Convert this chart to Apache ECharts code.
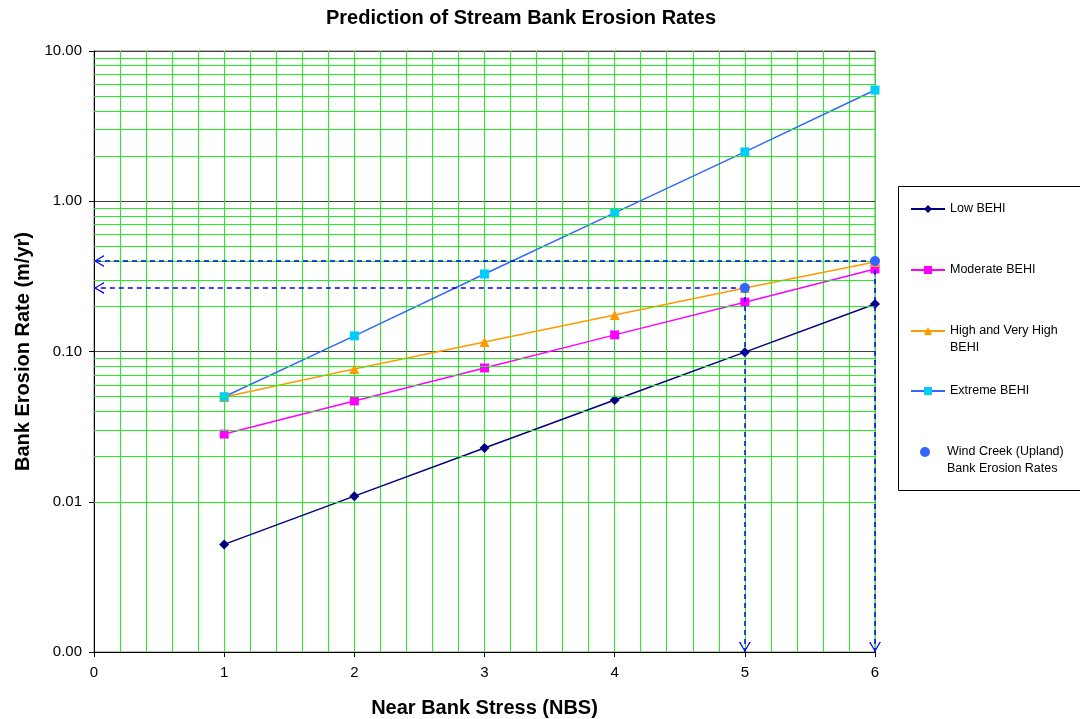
<!DOCTYPE html>
<html>
<head>
<meta charset="utf-8">
<title>Prediction of Stream Bank Erosion Rates</title>
<script src="https://cdn.jsdelivr.net/npm/echarts@6/dist/echarts.min.js"></script>
<style>
  html, body { margin: 0; padding: 0; background: #fff; }
  #chart { width: 1080px; height: 719px; }
</style>
</head>
<body>
<div id="chart"></div>
<script>
// Near Bank Stress ratings (x) shared by all BEHI curves
const nbs = [1, 2, 3, 4, 5, 6];

// Bank erosion rate (m/yr) for each BEHI class
const lowBEHI      = [0.0052, 0.0109, 0.0228, 0.0475, 0.099, 0.207];
const moderateBEHI = [0.0282, 0.0469, 0.0777, 0.129, 0.213, 0.354];
const highBEHI     = [0.0498, 0.0765, 0.1156, 0.175, 0.265, 0.394];
const extremeBEHI  = [0.05, 0.127, 0.328, 0.836, 2.13, 5.50];

// Measured Wind Creek (Upland) points
const windNBS  = [5, 6];
const windRate = [0.265, 0.40];

// Axis extents
const yMin = 0.001, yMax = 10;
const xMin = 0, xMax = 6;

const FONT = 'Arial, "Liberation Sans", sans-serif';

const pairs = (xs, ys) => xs.map((x, i) => [x, ys[i]]);

// Green minor grid lines at 2..9 within each decade of the log axis
const minorLogLines = [];
for (let d = yMin; d < yMax; d *= 10) {
  for (let k = 2; k <= 9; k++) minorLogLines.push({ yAxis: +(d * k).toPrecision(3) });
}

// Open chevron head; the empty sub-paths widen the bounding box so the tip
// sits at the symbol centre (on the line end) with a narrow, long head.
const openArrow = 'path://M0,16 L5,0 L10,16 L8.7,16 L5,3.2 L1.3,16 Z' +
                  ' M-3.33,-16 L-3.33,-16 Z M13.33,-16 L13.33,-16 Z';
const guideLines = [];
windNBS.forEach((x, i) => {
  guideLines.push([{ coord: [x, windRate[i]] }, { coord: [xMin, windRate[i]] }]);
  guideLines.push([{ coord: [x, windRate[i]] }, { coord: [x, yMin] }]);
});

// One legend block per entry; two-line entries get a leading blank line
// so the key sits beside the first line of text.
function legendItem(name, label, center, lines, left) {
  const h = 17 * lines;
  return {
    orient: 'vertical',
    left: left,
    top: center - h / 2,
    padding: 0,
    itemWidth: 34,
    itemHeight: 10,
    selectedMode: false,
    data: [name],
    formatter: () => label,
    textStyle: { fontFamily: FONT, fontSize: 12.5, color: '#000', lineHeight: 17 }
  };
}

const chart = echarts.init(document.getElementById('chart'), null, { renderer: 'canvas' });

chart.setOption({
  backgroundColor: '#fff',
  animation: false,
  title: {
    text: 'Prediction of Stream Bank Erosion Rates',
    left: 326, top: 8, padding: 0,
    textStyle: { fontFamily: FONT, fontSize: 20, fontWeight: 'bold', color: '#000' }
  },
  graphic: [{
    type: 'rect', z: 0,
    shape: { x: 898.5, y: 186.5, width: 250, height: 304 },
    style: { fill: '#fff', stroke: '#000', lineWidth: 1 }
  }],
  legend: [
    legendItem('Low BEHI', 'Low BEHI', 209, 1, 910),
    legendItem('Moderate BEHI', 'Moderate BEHI', 270, 1, 910),
    legendItem('High and Very High BEHI', '\nHigh and Very High\nBEHI', 331, 3, 910),
    legendItem('Extreme BEHI', 'Extreme BEHI', 391, 1, 910),
    legendItem('Wind Creek (Upland) Bank Erosion Rates', '\nWind Creek (Upland)\nBank Erosion Rates', 452, 3, 920)
  ],
  grid: {
    left: 94, right: 205, top: 51, bottom: 67,
    outerBoundsMode: 'none', containLabel: false,
    show: true, borderColor: '#808080', borderWidth: 1, backgroundColor: '#fff'
  },
  xAxis: {
    type: 'value', min: xMin, max: xMax, interval: 1,
    name: 'Near Bank Stress (NBS)', nameLocation: 'middle', nameGap: 46,
    nameTextStyle: { fontFamily: FONT, fontSize: 20, fontWeight: 'bold', color: '#000' },
    axisLine: { show: true, onZero: false, lineStyle: { color: '#000', width: 1 } },
    axisTick: { show: true, inside: false, length: 5, lineStyle: { color: '#000' } },
    axisLabel: { margin: 13, fontFamily: FONT, fontSize: 15, color: '#000' },
    splitLine: { show: true, lineStyle: { color: '#22ee22', width: 1 } },
    minorTick: { show: false, splitNumber: 5 },
    minorSplitLine: { show: true, lineStyle: { color: '#22ee22', width: 1 } }
  },
  yAxis: {
    type: 'log', logBase: 10, min: yMin, max: yMax,
    name: 'Bank Erosion Rate (m/yr)', nameLocation: 'middle', nameGap: 61,
    nameTextStyle: { fontFamily: FONT, fontSize: 20, fontWeight: 'bold', color: '#000' },
    axisLine: { show: true, lineStyle: { color: '#000', width: 1 } },
    axisTick: { show: true, inside: false, length: 5, lineStyle: { color: '#000' } },
    axisLabel: {
      margin: 12, fontFamily: FONT, fontSize: 15, color: '#000',
      formatter: v => Number(v).toFixed(2)
    },
    splitLine: { show: true, lineStyle: { color: '#404040', width: 1 } }
  },
  series: [
    {
      // minor log grid, drawn beneath the curves
      name: 'minor-grid', type: 'line', data: [], silent: true,
      markLine: {
        silent: true, symbol: 'none', label: { show: false },
        lineStyle: { color: '#22ee22', width: 1, type: 'solid' },
        emphasis: { disabled: true },
        data: minorLogLines
      }
    },
    {
      name: 'Low BEHI', type: 'line', data: pairs(nbs, lowBEHI),
      symbol: 'diamond', symbolSize: 10,
      lineStyle: { color: '#000080', width: 1.5 },
      itemStyle: { color: '#000080' }
    },
    {
      name: 'Moderate BEHI', type: 'line', data: pairs(nbs, moderateBEHI),
      symbol: 'rect', symbolSize: 9,
      lineStyle: { color: '#ff00ff', width: 1.5 },
      itemStyle: { color: '#ff00ff' }
    },
    {
      name: 'High and Very High BEHI', type: 'line', data: pairs(nbs, highBEHI),
      symbol: 'triangle', symbolSize: 10,
      lineStyle: { color: '#ff9900', width: 1.5 },
      itemStyle: { color: '#ff9900' }
    },
    {
      name: 'Extreme BEHI', type: 'line', data: pairs(nbs, extremeBEHI),
      symbol: 'rect', symbolSize: 9,
      lineStyle: { color: '#3366ff', width: 1.5 },
      itemStyle: { color: '#00ccff' }
    },
    {
      name: 'Wind Creek (Upland) Bank Erosion Rates', type: 'scatter',
      data: pairs(windNBS, windRate),
      symbol: 'circle', symbolSize: 10,
      itemStyle: { color: '#3366ff', opacity: 1 },
      z: 5,
      markLine: {
        silent: true,
        symbol: ['none', openArrow],
        symbolSize: 20,
        label: { show: false },
        lineStyle: { color: '#0000ff', width: 1.5, type: [5, 4] },
        emphasis: { disabled: true },
        data: guideLines
      }
    }
  ]
});
</script>
</body>
</html>
